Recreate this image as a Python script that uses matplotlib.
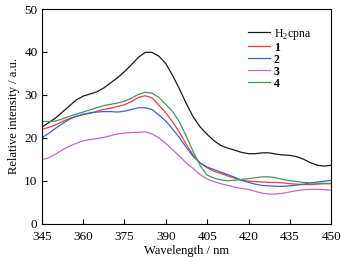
import numpy as np
import matplotlib
matplotlib.use("Agg")
import matplotlib.pyplot as plt

plt.rcParams['font.family'] = ['Liberation Serif', 'DejaVu Serif']
plt.rcParams['mathtext.fontset'] = 'custom'
plt.rcParams['mathtext.rm'] = 'Liberation Serif'

# wavelength grid (nm), 2.5 nm steps
wl = [345, 347.5, 350, 352.5, 355, 357.5, 360, 362.5, 365, 367.5, 370, 372.5,
      375, 377.5, 380, 382.5, 385, 387.5, 390, 392.5, 395, 397.5, 400, 402.5,
      405, 407.5, 410, 412.5, 415, 417.5, 420, 422.5, 425, 427.5, 430, 432.5,
      435, 437.5, 440, 442.5, 445, 447.5, 450]

h2cpna = [22.5, 23.5, 24.6, 26.0, 27.4, 28.8, 29.7, 30.2, 30.7, 31.6, 32.8, 34.0,
          35.4, 37.0, 38.7, 39.9, 39.9, 39.0, 37.3, 34.5, 31.3, 27.9, 24.8, 22.5,
          20.8, 19.3, 18.2, 17.6, 17.1, 16.6, 16.3, 16.3, 16.5, 16.5, 16.2, 16.0,
          15.9, 15.6, 15.0, 14.2, 13.6, 13.4, 13.6]

s1 = [22.0, 22.4, 23.0, 23.8, 24.5, 25.0, 25.4, 25.7, 26.2, 26.6, 26.9, 27.3,
      27.7, 28.4, 29.4, 29.8, 29.3, 27.6, 25.8, 23.7, 21.2, 18.4, 15.9, 14.1,
      13.0, 12.2, 11.7, 11.1, 10.6, 10.1, 9.9, 9.8, 9.7, 9.6, 9.6, 9.5,
      9.3, 9.2, 9.1, 9.1, 9.2, 9.3, 9.3]

s2 = [20.0, 21.0, 22.2, 23.3, 24.3, 25.0, 25.5, 25.8, 26.0, 26.1, 26.1, 26.0,
      26.2, 26.6, 27.0, 27.0, 26.6, 25.3, 23.9, 22.0, 20.0, 17.7, 15.6, 14.1,
      13.2, 12.6, 12.0, 11.4, 10.8, 10.1, 9.6, 9.2, 8.9, 8.8, 8.7, 8.7,
      8.8, 9.0, 9.2, 9.5, 9.7, 9.9, 10.1]

s3 = [14.9, 15.3, 16.2, 17.2, 18.0, 18.7, 19.3, 19.6, 19.8, 20.1, 20.5, 20.9,
      21.1, 21.2, 21.3, 21.4, 20.9, 20.0, 18.7, 17.2, 15.7, 14.1, 12.8, 11.4,
      10.4, 9.8, 9.3, 8.9, 8.5, 8.2, 8.0, 7.5, 7.1, 6.9, 6.9, 7.1,
      7.4, 7.7, 7.9, 8.0, 8.0, 7.9, 7.8]

s4 = [23.8, 23.8, 23.9, 24.4, 25.0, 25.5, 26.0, 26.5, 27.0, 27.5, 27.8, 28.1,
      28.5, 29.2, 30.1, 30.6, 30.4, 29.4, 27.8, 26.1, 23.6, 20.3, 16.7, 13.5,
      11.3, 10.6, 10.2, 10.0, 10.1, 10.3, 10.5, 10.7, 10.9, 10.9, 10.7, 10.3,
      10.0, 9.8, 9.6, 9.5, 9.4, 9.4, 9.4]

labels = ['H$_2$cpna', '1', '2', '3', '4']
colors = ['#1a1a1a', '#f03c3c', '#3a66c4', '#c46ac4', '#3c9a5c']
series = [h2cpna, s1, s2, s3, s4]

fig = plt.figure(figsize=(3.52, 2.65), dpi=100)
ax = fig.add_axes([0.1185, 0.156, 0.8225, 0.81])

for y, lab, c in zip(series, labels, colors):
    ax.plot(wl, y, color=c, lw=0.9, label=lab)

ax.set_xlim(345, 450)
ax.set_ylim(0, 50)
ax.set_xticks(np.arange(345, 451, 15))
ax.set_yticks(np.arange(0, 51, 10))
ax.tick_params(direction='in', length=3.5, width=0.8, labelsize=9.5,
               top=False, right=False)
ax.tick_params(axis='x', pad=5)
ax.tick_params(axis='y', pad=3)
for sp in ax.spines.values():
    sp.set_linewidth(0.8)

ax.set_xlabel('Wavelength / nm', fontsize=9, labelpad=2)
ax.set_ylabel('Relative intensity / a.u.', fontsize=9, labelpad=3)

leg = ax.legend(loc='upper left', bbox_to_anchor=(0.712, 0.918), frameon=False,
                fontsize=8.5, handlelength=1.9, handletextpad=0.3,
                labelspacing=0.0, borderaxespad=0, borderpad=0)
for t in leg.get_texts()[1:]:
    t.set_fontweight('bold')

fig.savefig('out.png', dpi=100)
